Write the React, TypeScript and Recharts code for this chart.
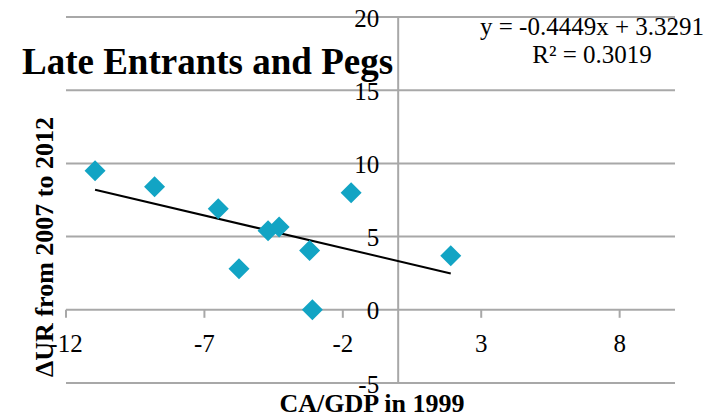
import { ScatterChart, Scatter, XAxis, YAxis, ReferenceLine, ReferenceDot } from 'recharts'

// CA/GDP in 1999 vs change in unemployment rate 2007-2012
const caGdp = [-10.95, -8.8, -6.5, -5.75, -4.7, -4.3, -3.2, -3.1, -1.7, 1.9]
const deltaUr = [9.5, 8.4, 6.9, 2.8, 5.4, 5.65, 4.05, 0, 8.0, 3.7]

const xTicks = [-12, -7, -2, 3, 8]
const yTicks = [-5, 0, 5, 10, 15, 20]

// linear trend as printed on the chart
const slope = -0.4449
const intercept = 3.3291
const r2 = 0.3019

const FONT = '"Liberation Serif", "Times New Roman", serif'
const GRID = '#a8a8a8'
const MARKER = '#12a4c4'

const points = caGdp.map((x, i) => ({ x, y: deltaUr[i] }))
const xMin = Math.min(...caGdp)
const xMax = Math.max(...caGdp)
const trend = [
  { x: xMin, y: slope * xMin + intercept },
  { x: xMax, y: slope * xMax + intercept },
]

const Diamond = (props: any) => {
  const { cx, cy } = props
  const r = 10.5
  return (
    <polygon
      points={`${cx},${cy - r} ${cx + r},${cy} ${cx},${cy + r} ${cx - r},${cy}`}
      fill={MARKER}
    />
  )
}

export default function App() {
  return (
    <div style={{ position: 'absolute', left: 0, top: 0, width: 720, height: 415 }}>
      <ScatterChart width={720} height={415} margin={{ top: 17, right: 45, bottom: 32, left: 66 }}>
        <XAxis type="number" dataKey="x" domain={[-12, 10]} ticks={xTicks} hide />
        <YAxis type="number" dataKey="y" domain={[-5, 20]} ticks={yTicks} hide />

        {/* horizontal gridlines */}
        {yTicks.map((t) => (
          <ReferenceLine key={`g${t}`} y={t} stroke={GRID} strokeWidth={2} />
        ))}
        {/* vertical axis at x = 0 */}
        <ReferenceLine x={0} stroke={GRID} strokeWidth={2} />

        {/* x tick marks and labels sitting on the y = 0 line */}
        {xTicks.map((t) => (
          <ReferenceDot
            key={`xt${t}`}
            x={t}
            y={0}
            shape={(p: any) => (
              <g>
                <line x1={p.cx} y1={p.cy} x2={p.cx} y2={p.cy + 8} stroke={GRID} strokeWidth={2} />
                <text
                  x={p.cx}
                  y={p.cy + 34}
                  textAnchor="middle"
                  dominantBaseline="central"
                  fontFamily={FONT}
                  fontSize={25}
                  fill="#000"
                >
                  {t}
                </text>
              </g>
            )}
          />
        ))}

        {/* y tick labels to the left of the x = 0 axis */}
        {yTicks.map((t) => (
          <ReferenceDot
            key={`yt${t}`}
            x={0}
            y={t}
            shape={(p: any) => (
              <text
                x={p.cx - 19}
                y={p.cy + 1}
                textAnchor="end"
                dominantBaseline="central"
                fontFamily={FONT}
                fontSize={25}
                fill="#000"
              >
                {t}
              </text>
            )}
          />
        ))}

        <Scatter data={trend} line={{ stroke: '#000', strokeWidth: 2 }} shape={() => <g />} isAnimationActive={false} />
        <Scatter data={points} shape={Diamond} isAnimationActive={false} />
      </ScatterChart>

      <svg
        width={720}
        height={415}
        style={{ position: 'absolute', left: 0, top: 0, pointerEvents: 'none' }}
      >
        <text x={22} y={74} fontFamily={FONT} fontSize={37} fontWeight="bold" fill="#000">
          Late Entrants and Pegs
        </text>
        <text x={592} y={35} textAnchor="middle" fontFamily={FONT} fontSize={25} fill="#000">
          {`y = ${slope}x + ${intercept}`}
        </text>
        <text x={592} y={63} textAnchor="middle" fontFamily={FONT} fontSize={25} fill="#000">
          {`R² = ${r2}`}
        </text>
        <text x={372} y={412} textAnchor="middle" fontFamily={FONT} fontSize={26} fontWeight="bold" fill="#000">
          CA/GDP in 1999
        </text>
        <text
          transform="translate(53, 247) rotate(-90)"
          textAnchor="middle"
          fontFamily={FONT}
          fontSize={26}
          fontWeight="bold"
          fill="#000"
        >
          ΔUR from 2007 to 2012
        </text>
      </svg>
    </div>
  )
}
